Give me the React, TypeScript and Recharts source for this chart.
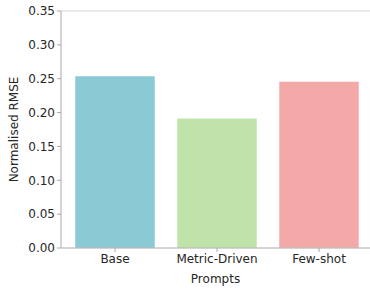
import React from 'react';
import { BarChart, Bar, XAxis, YAxis, Cell, ReferenceLine } from 'recharts';

const categories = ['Base', 'Metric-Driven', 'Few-shot'];
const rmseValues = [0.254, 0.1915, 0.246];
const barColors = ['#8ACAD5', '#BFE3A8', '#F4A9A9'];
const yTicks = [0, 0.05, 0.1, 0.15, 0.2, 0.25, 0.3, 0.35];

const data = categories.map((c, i) => ({ name: c, value: rmseValues[i] }));

const FONT = '"DejaVu Sans", sans-serif';
const TEXT = '#262626';

export default function App() {
  return (
    <div style={{ position: 'absolute', left: 0, top: 0, background: '#fff' }}>
      <BarChart
        width={370}
        height={289}
        data={data}
        margin={{ top: 11, right: 0, bottom: 0, left: 0 }}
        barCategoryGap={11}
      >
        <ReferenceLine y={0.35} stroke="#d4d4d4" strokeWidth={1.2} ifOverflow="extendDomain" />
        <XAxis
          dataKey="name"
          height={41}
          padding={{ left: 3, right: 0 }}
          tick={{ fill: TEXT, fontSize: 12, fontFamily: FONT }}
          tickSize={4}
          tickMargin={2}
          stroke="#aaaaaa"
          tickLine={{ stroke: '#aaaaaa' }}
          label={({ viewBox }: any) => (
            <text
              x={viewBox.x + viewBox.width / 2}
              y={283}
              textAnchor="middle"
              fill={TEXT}
              fontSize={12}
              fontFamily={FONT}
            >
              Prompts
            </text>
          )}
        />
        <YAxis
          width={61}
          domain={[0, 0.35]}
          ticks={yTicks}
          tickFormatter={(v: number) => v.toFixed(2)}
          tick={{ fill: TEXT, fontSize: 12, fontFamily: FONT }}
          tickSize={4}
          tickMargin={2}
          stroke="#aaaaaa"
          tickLine={{ stroke: '#aaaaaa' }}
          interval={0}
          label={({ viewBox }: any) => (
            <text
              x={14}
              y={viewBox.y + viewBox.height / 2}
              textAnchor="middle"
              dominantBaseline="central"
              transform={`rotate(-90, 14, ${viewBox.y + viewBox.height / 2})`}
              fill={TEXT}
              fontSize={12}
              fontFamily={FONT}
            >
              Normalised RMSE
            </text>
          )}
        />
        <Bar dataKey="value" isAnimationActive={false} stroke="#ffffff" strokeOpacity={0.5} strokeWidth={1}>
          {data.map((d, i) => (
            <Cell key={d.name} fill={barColors[i]} />
          ))}
        </Bar>
      </BarChart>
    </div>
  );
}
